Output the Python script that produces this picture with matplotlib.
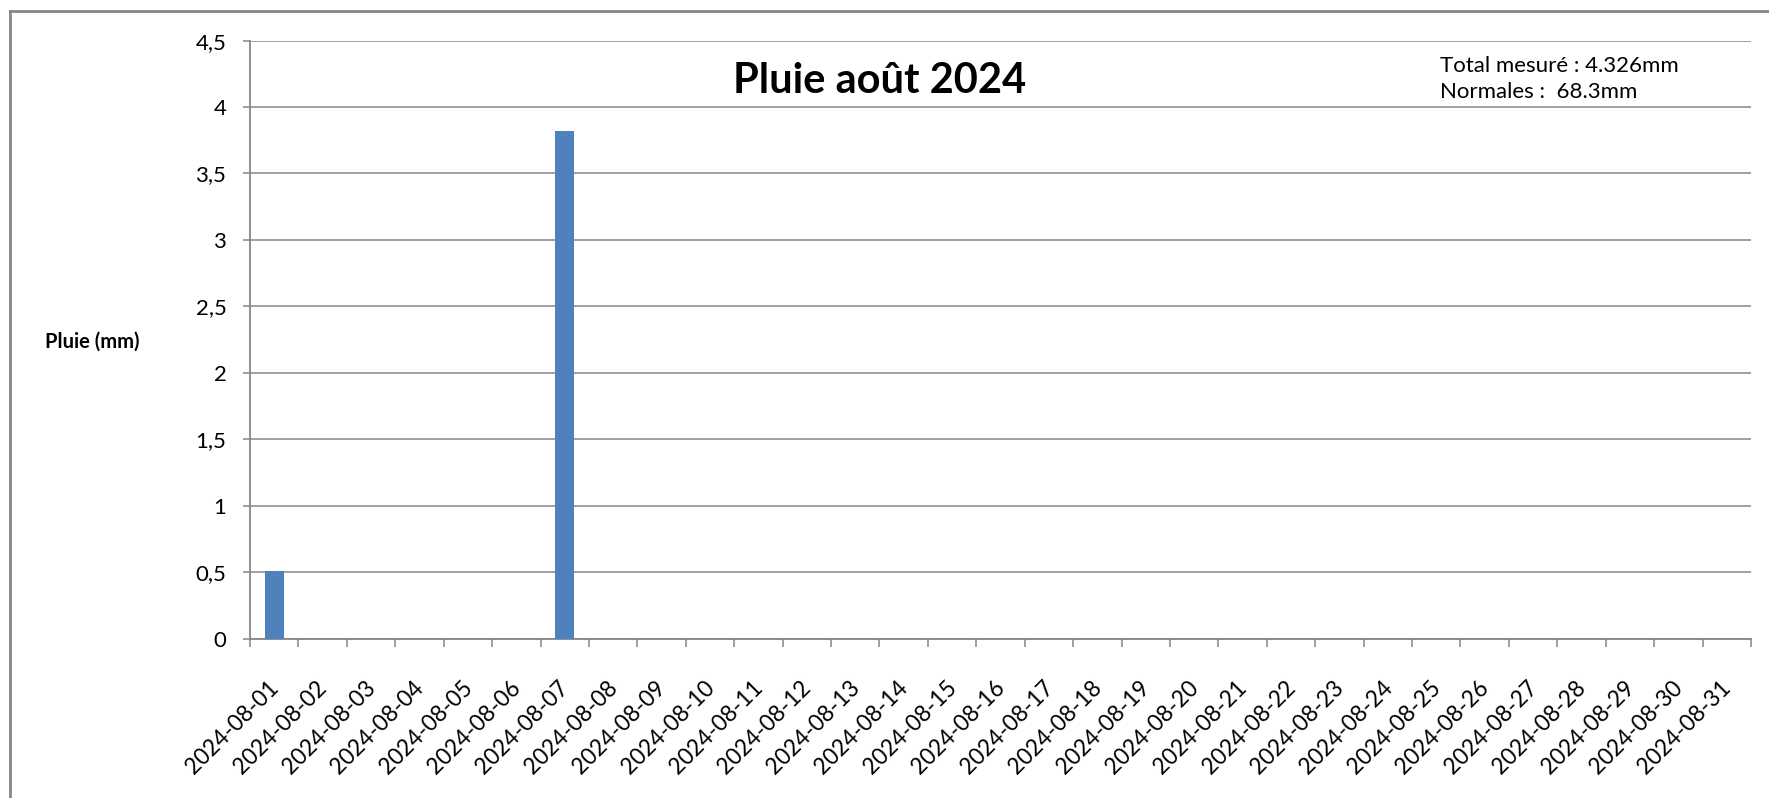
import numpy as np
import matplotlib.pyplot as plt
import matplotlib.transforms as mtransforms
from matplotlib.lines import Line2D

plt.rcParams['font.family'] = ['Lato', 'DejaVu Sans']

# daily rain, august 2024
dates = ["2024-08-%02d" % d for d in range(1, 32)]
rain = [0.508, 0, 0, 0, 0, 0, 3.818, 0, 0, 0,
        0, 0, 0, 0, 0, 0, 0, 0, 0, 0,
        0, 0, 0, 0, 0, 0, 0, 0, 0, 0, 0]
yticks = [0, 0.5, 1, 1.5, 2, 2.5, 3, 3.5, 4, 4.5]
ytick_labels = ["0", "0,5", "1", "1,5", "2", "2,5", "3", "3,5", "4", "4,5"]
title = "Pluie août 2024"
note = "Total mesuré : 4.326mm\nNormales :  68.3mm"

grey = "#868686"

fig = plt.figure(figsize=(17.69, 7.98), dpi=100)
ax = fig.add_axes([250/1769, 1 - 638.6/798, 1501/1769, 598/798])

x = np.arange(len(dates))
ax.bar(x, rain, width=0.4, color="#4F81BD", zorder=3)

ax.set_xlim(-0.5, len(dates) - 0.5)
ax.set_ylim(0, 4.5)

# y axis
ax.set_yticks(yticks)
ax.set_yticklabels(ytick_labels, fontsize=16)
ax.yaxis.grid(True, color=grey, linewidth=1.1)
ax.set_axisbelow(True)
ax.tick_params(axis='y', length=5, width=1.1, color=grey, pad=12)

# x axis: labels at centres, tick marks at the boundaries
ax.set_xticks(x)
ax.set_xticklabels(dates, fontsize=16.3, rotation=45, ha='right',
                   va='center', rotation_mode='anchor')
ax.set_xticks(np.arange(len(dates) + 1) - 0.5, minor=True)
ax.tick_params(axis='x', which='major', length=0, pad=33)
ax.tick_params(axis='x', which='minor', length=6, width=1.1, color=grey)
shift = mtransforms.ScaledTranslation(1/100, 0, fig.dpi_scale_trans)
for lab in ax.get_xticklabels():
    lab.set_transform(lab.get_transform() + shift)

for side in ['top', 'right']:
    ax.spines[side].set_visible(False)
for side in ['left', 'bottom']:
    ax.spines[side].set_color(grey)
    ax.spines[side].set_linewidth(1.3)

fig.text(880/1769, 1 - 81/798, title, fontsize=30, fontweight='bold',
         ha='center', va='center')
fig.text(92/1769, 1 - 342/798, "Pluie (mm)", fontsize=14.5, fontweight='bold',
         ha='center', va='center')
fig.text(1440/1769, 1 - 79/798, note, fontsize=16, ha='left', va='center',
         linespacing=1.38)

# chart frame (left and top edges visible)
fig.add_artist(Line2D([10/1769, 10/1769], [0, 1 - 11/798], color=grey,
                      linewidth=2, transform=fig.transFigure))
fig.add_artist(Line2D([10/1769, 1], [1 - 11/798, 1 - 11/798], color=grey,
                      linewidth=2, transform=fig.transFigure))

fig.savefig("out.png", dpi=100)
